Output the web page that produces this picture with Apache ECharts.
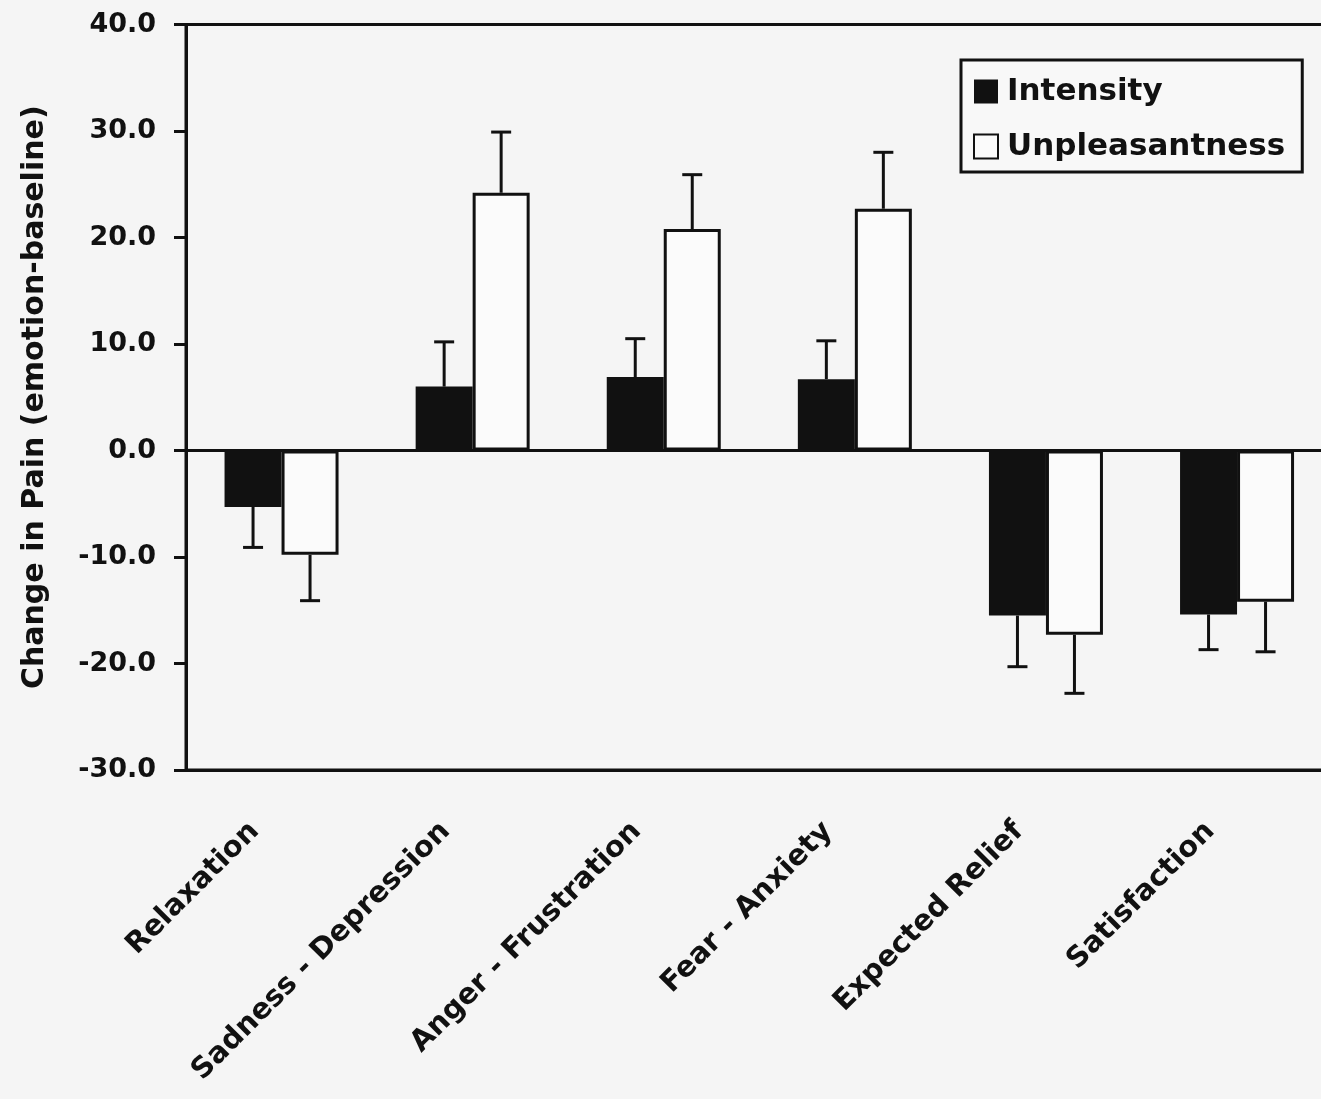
<!DOCTYPE html>
<html>
<head>
<meta charset="utf-8">
<script src="https://cdn.jsdelivr.net/npm/echarts@6/dist/echarts.min.js"></script>
<style>
html,body{margin:0;padding:0;background:#f5f5f5;}
#chart{width:1321px;height:1099px;}
</style>
</head>
<body>
<div id="chart"></div>
<script>
const categories = ['Relaxation', 'Sadness - Depression', 'Anger - Frustration', 'Fear - Anxiety', 'Expected Relief', 'Satisfaction'];
const intensity = [-5.3, 6.0, 6.9, 6.7, -15.5, -15.4];
const intensityErr = [3.8, 4.2, 3.6, 3.6, 4.8, 3.3];
const unpleasantness = [-9.8, 24.2, 20.8, 22.7, -17.3, -14.2];
const unpleasantnessErr = [4.3, 5.7, 5.1, 5.3, 5.5, 4.7];
const yMin = -30, yMax = 40, yStep = 10;

const FONT = 'DejaVu Sans';
const INK = '#111';

function errRender(offset) {
  return function (params, api) {
    const i = api.value(0), v = api.value(1), e = api.value(2);
    const end = v >= 0 ? v + e : v - e;
    const p0 = api.coord([i, v]);
    const p1 = api.coord([i, end]);
    const x = p0[0] + offset;
    return {
      type: 'group',
      children: [
        { type: 'line', shape: { x1: x, y1: p0[1], x2: x, y2: p1[1] }, style: { stroke: INK, lineWidth: 3 } },
        { type: 'line', shape: { x1: x - 10, y1: p1[1], x2: x + 10, y2: p1[1] }, style: { stroke: INK, lineWidth: 3 } }
      ]
    };
  };
}

const chart = echarts.init(document.getElementById('chart'));
chart.setOption({
  animation: false,
  backgroundColor: '#f5f5f5',
  grid: { left: 186, top: 24.5, width: 1146.6, height: 745.5, outerBoundsMode: 'none', containLabel: false, show: true, borderColor: INK, borderWidth: 3, backgroundColor: 'transparent' },
  legend: {
    orient: 'vertical', left: 961, top: 60,
    backgroundColor: '#f8f8f8', borderColor: INK, borderWidth: 3,
    padding: [16, 17, 10, 12], itemGap: 24, itemWidth: 24, itemHeight: 24,
    textStyle: { fontFamily: FONT, fontWeight: 'bold', fontSize: 31, color: INK, padding: [0, 0, 0, 4] },
    data: [
      { name: 'Intensity', icon: 'rect' },
      { name: 'Unpleasantness', icon: 'rect', itemStyle: { borderWidth: 2, borderColor: INK, color: '#fbfbfb' } }
    ]
  },
  xAxis: {
    type: 'category', data: categories, position: 'bottom',
    axisLine: { onZero: false, lineStyle: { color: INK, width: 3 } },
    axisTick: { show: false },
    axisLabel: { interval: 0, rotate: 45, margin: 30, padding: [0, 38, 0, 0], fontFamily: FONT, fontWeight: 'bold', fontSize: 29, color: INK }
  },
  yAxis: {
    type: 'value', min: yMin, max: yMax, interval: yStep,
    name: 'Change in Pain (emotion-baseline)', nameLocation: 'middle', nameGap: 136,
    nameTextStyle: { fontFamily: FONT, fontWeight: 'bold', fontSize: 30, color: INK },
    axisLine: { show: true, lineStyle: { color: INK, width: 3 } },
    axisTick: { show: true, length: 12, lineStyle: { color: INK, width: 3 } },
    splitLine: { show: false },
    axisLabel: { margin: 30, fontFamily: FONT, fontWeight: 'bold', fontSize: 27, color: INK, formatter: v => v.toFixed(1) }
  },
  series: [
    {
      name: 'Intensity', type: 'bar', data: intensity, barWidth: 57, barGap: '0%',
      itemStyle: { color: INK },
      markLine: { symbol: 'none', silent: true, label: { show: false }, lineStyle: { color: INK, width: 3, type: 'solid' }, data: [{ yAxis: 0 }] }
    },
    {
      name: 'Unpleasantness', type: 'bar', data: unpleasantness, barWidth: 57, barGap: '0%',
      itemStyle: { color: '#fbfbfb', borderColor: INK, borderWidth: 3 }
    },
    {
      name: 'IntensityErr', type: 'custom', renderItem: errRender(-28.5), z: 5,
      data: categories.map((c, i) => [i, intensity[i], intensityErr[i]])
    },
    {
      name: 'UnpleasantnessErr', type: 'custom', renderItem: errRender(28.5), z: 5,
      data: categories.map((c, i) => [i, unpleasantness[i], unpleasantnessErr[i]])
    }
  ]
});
</script>
</body>
</html>
